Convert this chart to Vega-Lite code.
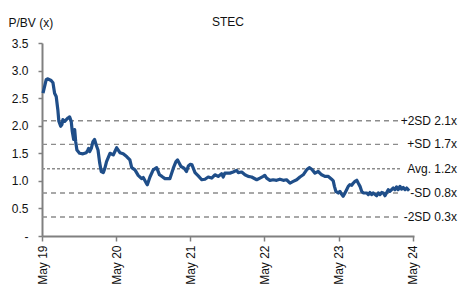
{
  "$schema": "https://vega.github.io/schema/vega-lite/v6.json",
  "width": 372,
  "height": 193,
  "autosize": {"type": "none"},
  "padding": {"left": 42, "top": 43, "right": 56, "bottom": 51},
  "background": "white",
  "config": {
    "font": "Liberation Sans",
    "view": {"stroke": null},
    "axis": {"labelFont": "Liberation Sans", "titleFont": "Liberation Sans", "grid": false}
  },
  "title": {"text": "STEC", "fontSize": 12, "fontWeight": "normal", "color": "#111111", "offset": 16, "dy": 29, "font": "Liberation Sans"},
  "datasets": {
    "series": [
      {"d": "2019-05-06", "v": 2.59}, {"d": "2019-05-22", "v": 2.84}, {"d": "2019-05-30", "v": 2.85},
      {"d": "2019-06-15", "v": 2.82}, {"d": "2019-06-24", "v": 2.78}, {"d": "2019-07-02", "v": 2.59},
      {"d": "2019-07-10", "v": 2.53}, {"d": "2019-07-18", "v": 2.29}, {"d": "2019-07-23", "v": 2.08},
      {"d": "2019-08-01", "v": 1.99}, {"d": "2019-08-07", "v": 2.02}, {"d": "2019-08-12", "v": 2.11},
      {"d": "2019-08-21", "v": 2.08}, {"d": "2019-09-06", "v": 2.14}, {"d": "2019-09-14", "v": 2.16},
      {"d": "2019-09-22", "v": 2.08}, {"d": "2019-09-27", "v": 1.90}, {"d": "2019-10-04", "v": 1.75},
      {"d": "2019-10-09", "v": 1.93}, {"d": "2019-10-14", "v": 1.71}, {"d": "2019-10-20", "v": 1.56},
      {"d": "2019-11-02", "v": 1.50}, {"d": "2019-11-19", "v": 1.49}, {"d": "2019-12-05", "v": 1.51},
      {"d": "2019-12-13", "v": 1.56}, {"d": "2019-12-17", "v": 1.59}, {"d": "2019-12-22", "v": 1.53},
      {"d": "2019-12-30", "v": 1.59}, {"d": "2020-01-07", "v": 1.71}, {"d": "2020-01-15", "v": 1.75},
      {"d": "2020-01-23", "v": 1.65}, {"d": "2020-02-01", "v": 1.56}, {"d": "2020-02-09", "v": 1.33},
      {"d": "2020-02-17", "v": 1.17}, {"d": "2020-02-27", "v": 1.15}, {"d": "2020-03-06", "v": 1.23},
      {"d": "2020-03-14", "v": 1.35}, {"d": "2020-03-31", "v": 1.50}, {"d": "2020-04-16", "v": 1.47},
      {"d": "2020-05-03", "v": 1.60}, {"d": "2020-05-19", "v": 1.51}, {"d": "2020-06-04", "v": 1.49},
      {"d": "2020-06-21", "v": 1.44}, {"d": "2020-07-07", "v": 1.38}, {"d": "2020-07-16", "v": 1.24},
      {"d": "2020-08-01", "v": 1.20}, {"d": "2020-08-17", "v": 1.10}, {"d": "2020-09-03", "v": 1.04},
      {"d": "2020-09-11", "v": 1.06}, {"d": "2020-09-27", "v": 0.95}, {"d": "2020-10-01", "v": 0.93},
      {"d": "2020-10-14", "v": 1.07}, {"d": "2020-10-30", "v": 1.20}, {"d": "2020-11-16", "v": 1.24},
      {"d": "2020-11-30", "v": 1.11}, {"d": "2020-12-12", "v": 1.08}, {"d": "2020-12-27", "v": 1.04},
      {"d": "2021-01-20", "v": 1.04}, {"d": "2021-02-06", "v": 1.23}, {"d": "2021-02-19", "v": 1.35},
      {"d": "2021-02-27", "v": 1.38}, {"d": "2021-03-16", "v": 1.26}, {"d": "2021-03-31", "v": 1.23},
      {"d": "2021-04-12", "v": 1.17}, {"d": "2021-04-21", "v": 1.27}, {"d": "2021-05-01", "v": 1.30},
      {"d": "2021-05-09", "v": 1.29}, {"d": "2021-05-24", "v": 1.15}, {"d": "2021-06-09", "v": 1.09},
      {"d": "2021-06-26", "v": 1.02}, {"d": "2021-07-12", "v": 1.03}, {"d": "2021-07-28", "v": 1.07},
      {"d": "2021-08-14", "v": 1.05}, {"d": "2021-08-30", "v": 1.11}, {"d": "2021-09-15", "v": 1.08},
      {"d": "2021-10-02", "v": 1.13}, {"d": "2021-10-10", "v": 1.07}, {"d": "2021-10-18", "v": 1.14},
      {"d": "2021-11-12", "v": 1.14}, {"d": "2021-11-28", "v": 1.16}, {"d": "2021-12-15", "v": 1.19},
      {"d": "2021-12-23", "v": 1.15}, {"d": "2022-01-09", "v": 1.16}, {"d": "2022-01-25", "v": 1.11},
      {"d": "2022-02-10", "v": 1.08}, {"d": "2022-02-27", "v": 1.07}, {"d": "2022-03-24", "v": 1.02},
      {"d": "2022-04-09", "v": 1.05}, {"d": "2022-04-25", "v": 1.08}, {"d": "2022-05-03", "v": 1.10},
      {"d": "2022-05-12", "v": 1.05}, {"d": "2022-05-28", "v": 1.01}, {"d": "2022-06-13", "v": 1.02},
      {"d": "2022-06-30", "v": 1.01}, {"d": "2022-07-16", "v": 1.03}, {"d": "2022-08-02", "v": 1.01},
      {"d": "2022-08-18", "v": 1.02}, {"d": "2022-09-04", "v": 0.96}, {"d": "2022-09-20", "v": 0.99},
      {"d": "2022-10-07", "v": 1.02}, {"d": "2022-10-23", "v": 1.07}, {"d": "2022-11-08", "v": 1.11},
      {"d": "2022-11-25", "v": 1.20}, {"d": "2022-12-08", "v": 1.24}, {"d": "2022-12-20", "v": 1.21},
      {"d": "2023-01-05", "v": 1.14}, {"d": "2023-01-21", "v": 1.17}, {"d": "2023-02-07", "v": 1.11},
      {"d": "2023-02-23", "v": 1.08}, {"d": "2023-03-12", "v": 1.08}, {"d": "2023-03-28", "v": 1.03},
      {"d": "2023-04-05", "v": 1.00}, {"d": "2023-04-11", "v": 0.90}, {"d": "2023-04-18", "v": 0.81},
      {"d": "2023-04-30", "v": 0.78}, {"d": "2023-05-08", "v": 0.81}, {"d": "2023-05-16", "v": 0.76},
      {"d": "2023-05-24", "v": 0.72}, {"d": "2023-06-02", "v": 0.78}, {"d": "2023-06-10", "v": 0.84},
      {"d": "2023-06-18", "v": 0.90}, {"d": "2023-06-26", "v": 0.93}, {"d": "2023-07-05", "v": 0.92},
      {"d": "2023-07-13", "v": 0.96}, {"d": "2023-07-21", "v": 0.99}, {"d": "2023-07-30", "v": 1.01},
      {"d": "2023-08-06", "v": 0.96}, {"d": "2023-08-15", "v": 0.90}, {"d": "2023-08-23", "v": 0.81},
      {"d": "2023-08-31", "v": 0.78}, {"d": "2023-09-17", "v": 0.78}, {"d": "2023-09-25", "v": 0.75},
      {"d": "2023-10-03", "v": 0.79}, {"d": "2023-10-11", "v": 0.75}, {"d": "2023-10-19", "v": 0.78},
      {"d": "2023-11-05", "v": 0.73}, {"d": "2023-11-13", "v": 0.78}, {"d": "2023-11-21", "v": 0.75},
      {"d": "2023-11-30", "v": 0.79}, {"d": "2023-12-08", "v": 0.78}, {"d": "2023-12-16", "v": 0.73},
      {"d": "2024-01-01", "v": 0.84}, {"d": "2024-01-09", "v": 0.81}, {"d": "2024-01-26", "v": 0.87},
      {"d": "2024-02-03", "v": 0.84}, {"d": "2024-02-11", "v": 0.89}, {"d": "2024-02-19", "v": 0.84},
      {"d": "2024-02-28", "v": 0.90}, {"d": "2024-03-07", "v": 0.85}, {"d": "2024-03-15", "v": 0.88},
      {"d": "2024-03-24", "v": 0.84}, {"d": "2024-04-01", "v": 0.87}, {"d": "2024-04-13", "v": 0.82}
    ],
    "refs": [
      {"label": "+2SD 2.1x", "v": 2.09, "kind": "sd"},
      {"label": "+SD 1.7x", "v": 1.66, "kind": "sd"},
      {"label": "Avg. 1.2x", "v": 1.22, "kind": "avg"},
      {"label": "-SD 0.8x", "v": 0.78, "kind": "sd"},
      {"label": "-2SD 0.3x", "v": 0.345, "kind": "sd"}
    ]
  },
  "layer": [
    {
      "data": {"name": "refs"},
      "mark": {"type": "rule", "strokeWidth": 1.3, "color": "#8c8c8c"},
      "encoding": {
        "x": {
          "datum": {"year": 2019, "month": 5, "date": 1, "utc": true}, "type": "temporal",
          "scale": {"type": "utc", "domain": [{"year": 2019, "month": 5, "date": 1, "utc": true}, {"year": 2024, "month": 5, "date": 7, "utc": true}]},
          "axis": {
            "title": null,
            "values": [
              {"year": 2019, "month": 5, "date": 1, "utc": true},
              {"year": 2020, "month": 5, "date": 1, "utc": true},
              {"year": 2021, "month": 5, "date": 1, "utc": true},
              {"year": 2022, "month": 5, "date": 1, "utc": true},
              {"year": 2023, "month": 5, "date": 1, "utc": true},
              {"year": 2024, "month": 5, "date": 1, "utc": true}
            ],
            "labelExpr": "utcFormat(datum.value, '%b %y')",
            "labelAngle": 270,
            "labelAlign": "right",
            "labelBaseline": "middle",
            "labelFontSize": 12,
            "labelColor": "#111111",
            "labelPadding": 4,
            "tickSize": 5,
            "tickColor": "#808080",
            "tickWidth": 1.5,
            "domainColor": "#808080",
            "domainWidth": 2,
            "labelFlush": false,
            "labelOverlap": false
          }
        },
        "x2": {"datum": {"year": 2024, "month": 2, "date": 29, "utc": true}},
        "y": {
          "field": "v", "type": "quantitative",
          "scale": {"domain": [0, 3.5], "nice": false, "zero": true},
          "axis": {
            "title": "P/BV (x)",
            "titleAngle": 0,
            "titleAlign": "left",
            "titleBaseline": "alphabetic",
            "titleX": -34,
            "titleY": -17,
            "titleFontSize": 12,
            "titleFontWeight": "normal",
            "titleColor": "#111111",
            "tickCount": 8,
            "format": ".1f",
            "labelExpr": "datum.value == 0 ? '-' : datum.label",
            "labelOverlap": false,
            "labelFlush": false,
            "labelFontSize": 12,
            "labelColor": "#111111",
            "labelPadding": 10,
            "tickSize": 4,
            "tickColor": "#808080",
            "tickWidth": 1.5,
            "domainColor": "#808080",
            "domainWidth": 2
          }
        },
        "strokeDash": {"field": "kind", "type": "nominal", "scale": {"domain": ["sd", "avg"], "range": [[5, 4], [3, 2]]}, "legend": null}
      }
    },
    {
      "data": {"name": "series"},
      "mark": {"type": "line", "color": "#1F4E89", "strokeWidth": 3.2, "strokeJoin": "round", "clip": false},
      "encoding": {
        "x": {"field": "d", "type": "temporal"},
        "y": {"field": "v", "type": "quantitative"}
      }
    },
    {
      "data": {"name": "refs"},
      "mark": {"type": "text", "align": "right", "baseline": "middle", "dx": 43, "fontSize": 12, "color": "#111111", "font": "Liberation Sans"},
      "encoding": {
        "x": {"datum": {"year": 2024, "month": 5, "date": 7, "utc": true}, "type": "temporal"},
        "y": {"field": "v", "type": "quantitative"},
        "text": {"field": "label"}
      }
    }
  ]
}
